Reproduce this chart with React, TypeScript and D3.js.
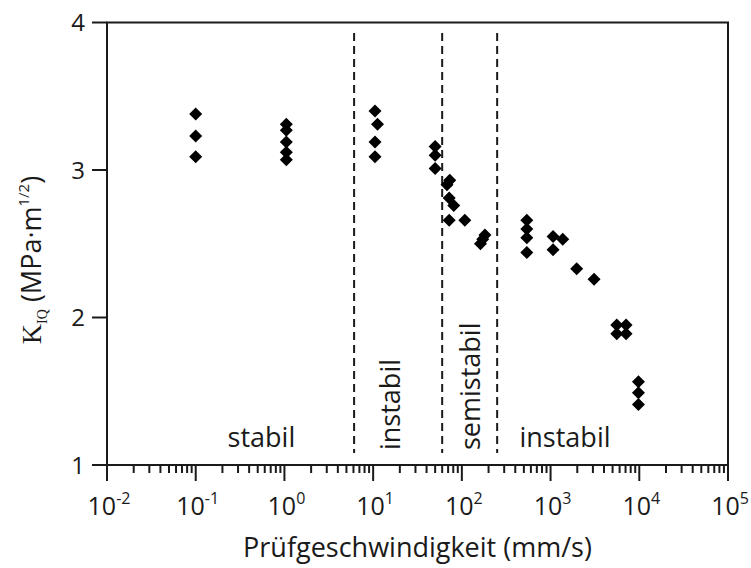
import React from 'react';
import * as d3 from 'd3';

// test speed in mm/s and measured K_IQ in MPa·m^1/2
const speeds = [
  0.1, 0.1, 0.1,
  1.05, 1.05, 1.05, 1.05, 1.05,
  10.5, 11.2, 10.5, 10.5,
  50, 50, 50,
  73, 68, 72, 81, 72,
  108, 182, 172, 162,
  540, 540, 540, 540,
  1067, 1067, 1371,
  1970, 3090,
  5570, 7100, 5570, 7100,
  9780, 9780, 9780,
];
const kiqValues = [
  3.38, 3.23, 3.09,
  3.31, 3.27, 3.19, 3.12, 3.07,
  3.40, 3.31, 3.19, 3.09,
  3.16, 3.10, 3.01,
  2.93, 2.90, 2.81, 2.76, 2.66,
  2.66, 2.56, 2.53, 2.50,
  2.66, 2.60, 2.54, 2.44,
  2.55, 2.46, 2.53,
  2.33, 2.26,
  1.95, 1.95, 1.89, 1.89,
  1.565, 1.49, 1.41,
];

// dashed region borders (mm/s)
const boundaries = [6.1, 60, 250];
const regionNames = ['stabil', 'instabil', 'semistabil', 'instabil'];

const yTicks = [1, 2, 3, 4];
const xExponents = [-2, -1, 0, 1, 2, 3, 4, 5];

const width = 751;
const height = 568;
const margin = { left: 107, right: 23, top: 22.5, bottom: 103 };
const font = '"Open Sans", sans-serif';
const ink = '#1a1a1a';

export default function App() {
  const x = d3
    .scaleLog()
    .domain([1e-2, 1e5])
    .range([margin.left, width - margin.right]);
  const y = d3
    .scaleLinear()
    .domain([1, 4])
    .range([height - margin.bottom, margin.top]);

  const [x0, x1] = x.range();
  const [yb, yt] = y.range();

  // minor ticks 2..9 in every decade
  const minorTicks: number[] = [];
  xExponents.slice(0, -1).forEach((e) => {
    for (let m = 2; m <= 9; m++) minorTicks.push(m * Math.pow(10, e));
  });

  const diamond = (cx: number, cy: number, r = 6.5) =>
    `M${cx},${cy - r}L${cx + r},${cy}L${cx},${cy + r}L${cx - r},${cy}Z`;

  return (
    <div style={{ position: 'absolute', left: 0, top: 0 }}>
      <svg width={width} height={height} style={{ display: 'block', background: '#fff' }}>
        {/* frame */}
        <rect x={x0} y={yt} width={x1 - x0} height={yb - yt} fill="none" stroke={ink} strokeWidth={2} />

        {/* y ticks */}
        {yTicks.map((t) => (
          <g key={t}>
            <line x1={x0 - 15} x2={x0} y1={y(t)} y2={y(t)} stroke={ink} strokeWidth={2} />
            <text x={85} y={y(t) + 8.5} textAnchor="end" fontFamily={font} fontSize={24} fill={ink}>
              {t}
            </text>
          </g>
        ))}

        {/* x ticks */}
        {minorTicks.map((t, i) => (
          <line key={'m' + i} x1={x(t)} x2={x(t)} y1={yb} y2={yb + 8} stroke={ink} strokeWidth={2} />
        ))}
        {xExponents.map((e) => (
          <g key={e}>
            <line x1={x(Math.pow(10, e))} x2={x(Math.pow(10, e))} y1={yb} y2={yb + 16} stroke={ink} strokeWidth={2} />
            <text x={x(Math.pow(10, e)) + 2} y={515} textAnchor="middle" fontFamily={font} fontSize={25} fill={ink}>
              10
              <tspan fontSize={16} dy={-11}>
                {e}
              </tspan>
            </text>
          </g>
        ))}

        {/* region borders */}
        {boundaries.map((b) => (
          <line
            key={b}
            x1={x(b)}
            x2={x(b)}
            y1={33}
            y2={yb - 12}
            stroke={ink}
            strokeWidth={2}
            strokeDasharray="8,5"
          />
        ))}

        {/* region labels */}
        <text x={x(0.55)} y={446.5} textAnchor="middle" fontFamily={font} fontSize={27} fill={ink}>
          {regionNames[0]}
        </text>
        <text transform={`translate(${x(20)},450) rotate(-90)`} fontFamily={font} fontSize={27} fill={ink}>
          {regionNames[1]}
        </text>
        <text transform={`translate(${x(160)},450) rotate(-90)`} fontFamily={font} fontSize={27} fill={ink}>
          {regionNames[2]}
        </text>
        <text x={x(1455)} y={446.5} textAnchor="middle" fontFamily={font} fontSize={27} fill={ink}>
          {regionNames[3]}
        </text>

        {/* data */}
        {speeds.map((s, i) => (
          <path key={i} d={diamond(x(s), y(kiqValues[i]))} fill="#000" />
        ))}

        {/* axis titles */}
        <text x={(x0 + x1) / 2} y={557} textAnchor="middle" fontFamily={font} fontSize={27} fill={ink}>
          Prüfgeschwindigkeit (mm/s)
        </text>
        <text transform="translate(41,260) rotate(-90)" textAnchor="middle" fontFamily={font} fontSize={27} fill={ink}>
          <tspan fontFamily='"Liberation Serif", serif' fontSize={28}>K</tspan>
          <tspan fontFamily='"Liberation Serif", serif' fontSize={14} dy={6}>IQ</tspan>
          <tspan dy={-6}> (MPa·m</tspan>
          <tspan fontSize={15} dy={-12}>1/2</tspan>
          <tspan dy={12}>)</tspan>
        </text>
      </svg>
    </div>
  );
}
